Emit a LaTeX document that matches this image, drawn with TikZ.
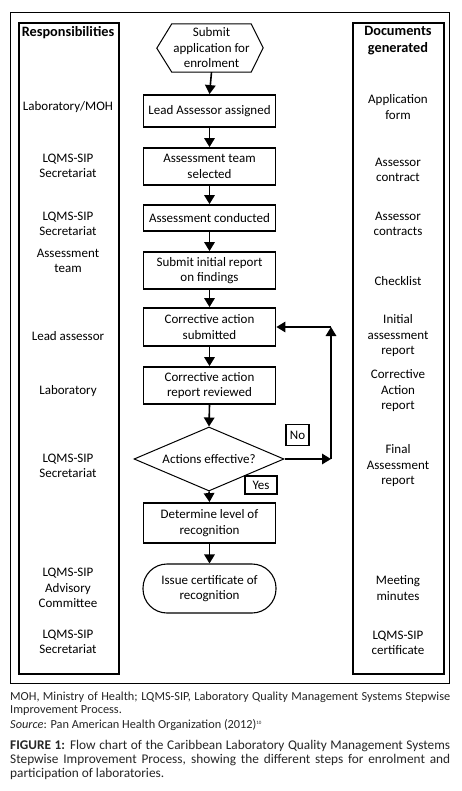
\documentclass[tikz,border=0pt]{standalone}
\usepackage{fontspec}
\setmainfont{Carlito}
\usetikzlibrary{shapes.geometric,arrows.meta}
\begin{document}
\begin{tikzpicture}[x=1pt,y=-1pt, font=\fontsize{13}{15.5}\selectfont,
  box/.style={draw, line width=1.8pt, minimum width=132pt, align=center, inner sep=2pt},
  arr/.style={line width=1.6pt, -{Triangle[width=10.5pt,length=9pt]}},
  col/.style={draw, line width=1.8pt, minimum width=100pt, minimum height=651pt, anchor=north west},
  lab/.style={align=center, inner sep=1pt},
  tag/.style={draw, line width=1.5pt, inner sep=2pt, minimum height=21pt},
  capsmall/.style={anchor=base west, inner sep=0pt, text=black!85, font=\fontsize{12.3}{13}\selectfont},
  capbig/.style={anchor=base west, inner sep=0pt, text=black!85, font=\fontsize{13.3}{14}\selectfont}]
\useasboundingbox (0,0) rectangle (462,791);
\fill[white] (0,0) rectangle (462,791);
\draw[line width=0.8pt] (10,12) rectangle (449,683);
% columns
\node[col] (lcol) at (18,22) {};
\node[col, minimum width=91pt] (rcol) at (352,22) {};
\node[lab, font=\fontsize{14.3}{17}\bfseries] (lhead) at (68,33) {Responsibilities};
\node[lab, font=\fontsize{14.3}{17}\bfseries] (rhead) at (398,41) {Documents\\generated};
% responsibilities
\node[lab] (r1) at (68,107) {Laboratory/MOH};
\node[lab] (r2) at (68,166) {LQMS-SIP\\Secretariat};
\node[lab] (r3) at (68,224) {LQMS-SIP\\Secretariat};
\node[lab] (r4) at (68,261) {Assessment\\team};
\node[lab] (r5) at (68,336) {Lead assessor};
\node[lab] (r6) at (68,391) {Laboratory};
\node[lab] (r7) at (68,466) {LQMS-SIP\\Secretariat};
\node[lab] (r8) at (68,588) {LQMS-SIP\\Advisory\\Committee};
\node[lab] (r9) at (68,642) {LQMS-SIP\\Secretariat};
% documents
\node[lab] (d1) at (398,107) {Application\\form};
\node[lab] (d2) at (398,170) {Assessor\\contract};
\node[lab] (d3) at (398,224) {Assessor\\contracts};
\node[lab] (d4) at (398,281) {Checklist};
\node[lab] (d5) at (398,336) {Initial\\assessment\\report};
\node[lab] (d6) at (398,391) {Corrective\\Action\\report};
\node[lab] (d7) at (398,466) {Final\\Assessment\\report};
\node[lab] (d8) at (398,588) {Meeting\\minutes};
\node[lab] (d9) at (398,643) {LQMS-SIP\\certificate};
% flow
\node[lab, minimum width=79pt, minimum height=48pt] (start) at (211.5,48) {Submit\\application for\\enrolment};
\draw[line width=1pt] (start.north west) -- (start.north east) -- ++(12,24) -- (start.south east) -- (start.south west) -- ++(-15,-24) -- cycle;
\node[box, minimum height=32pt] (la) at (209.5,111) {Lead Assessor assigned};
\node[box, minimum height=37pt] (team) at (209.5,166.5) {Assessment team\\selected};
\node[box, minimum height=26pt] (cond) at (209.5,218) {Assessment conducted};
\node[box, minimum height=37pt] (init) at (209.5,270.5) {Submit initial report\\on findings};
\node[box, minimum height=38pt] (corr) at (209.5,327) {Corrective action\\submitted};
\node[box, minimum height=37pt] (rev) at (209.5,385.5) {Corrective action\\report reviewed};
\node[draw, diamond, aspect=2.34, line width=1pt, minimum width=150pt, minimum height=64pt, inner sep=0pt] (dia) at (209,459) {Actions effective?};
\node[box, minimum height=40pt] (det) at (209.5,523) {Determine level of\\recognition};
\node[draw, line width=1.1pt, rounded corners=24pt, minimum width=133pt, minimum height=49pt, align=center] (iss) at (209.5,588.5) {Issue certificate of\\recognition};
\node[tag, minimum width=23pt] (no) at (297.5,435) {No};
\node[tag, minimum width=32pt, minimum height=18pt] (yes) at (261,485) {Yes};
% arrows
\draw[arr] (start.south) -- (la.north);
\draw[arr] (la) -- (team);
\draw[arr] (team) -- (cond);
\draw[arr] (cond) -- (init);
\draw[arr] (init) -- (corr);
\draw[arr] (corr) -- (rev);
\draw[arr] (rev.south) -- (dia.north);
\draw[arr] (dia.south) -- (det.north);
\draw[arr] (det) -- (iss);
\coordinate (c1) at (331,459);
\coordinate (c2) at (331,327);
\draw[arr] (dia.east) -- (c1);
\draw[arr] (c1) -- (c2);
\draw[arr] (c2) -- (corr.east);
% caption
\node[capsmall] (cap1) at (10,700) {\makebox[440pt][s]{MOH, Ministry of Health; LQMS-SIP, Laboratory Quality Management Systems Stepwise}};
\node[capsmall] (cap2) at (10,713) {Improvement Process.};
\node[capsmall] (cap3) at (10,728.5) {\textit{Source}: Pan American Health Organization (2012)\textsuperscript{\fontsize{5}{5}\selectfont 10}};
\node[capbig] (cap4) at (10,749) {\makebox[440pt][s]{\textbf{FIGURE 1:} Flow chart of the Caribbean Laboratory Quality Management Systems}};
\node[capbig] (cap5) at (10,763) {\makebox[440pt][s]{Stepwise Improvement Process, showing the different steps for enrolment and}};
\node[capbig] (cap6) at (10,777) {participation of laboratories.};
\end{tikzpicture}
\end{document}
